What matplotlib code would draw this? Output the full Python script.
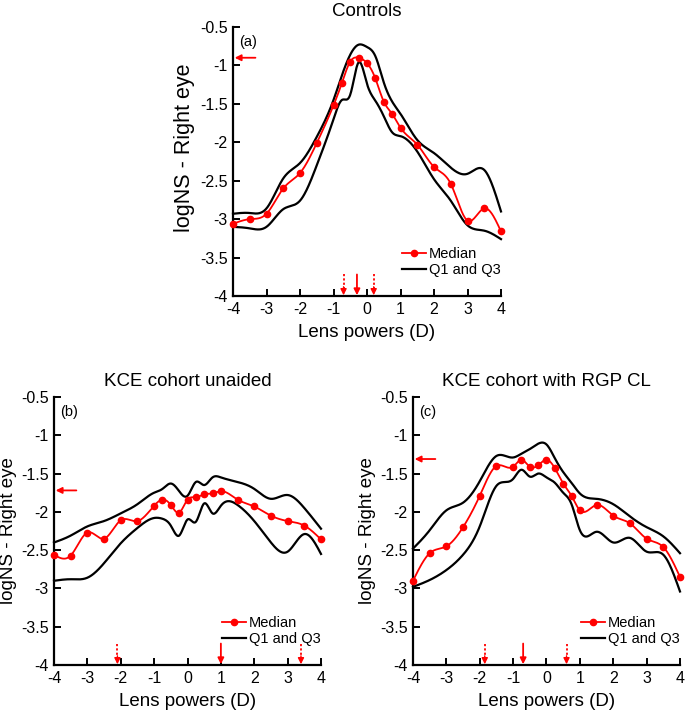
import numpy as np
import matplotlib
matplotlib.use('Agg')
import matplotlib.pyplot as plt
from matplotlib.lines import Line2D
from matplotlib.ticker import FormatStrFormatter

plt.rcParams['font.family'] = ['Liberation Sans', 'DejaVu Sans']
plt.rcParams['axes.unicode_minus'] = False

# lens powers (D) at which logNS was measured
lens_powers = [-4, -3.5, -3, -2.5, -2, -1.5, -1, -0.75, -0.5, -0.25, 0,
               0.25, 0.5, 0.75, 1, 1.5, 2, 2.5, 3, 3.5, 4]

# (a) controls
ctrl_median = [-3.06, -3.00, -2.93, -2.60, -2.40, -2.01, -1.52, -1.23, -0.95, -0.90, -0.97,
               -1.17, -1.47, -1.63, -1.81, -2.03, -2.32, -2.54, -3.02, -2.86, -3.16]
ctrl_q3 = [-2.93, -2.92, -2.86, -2.47, -2.27, -1.93, -1.45, -1.13, -0.86, -0.73, -0.76,
           -0.88, -1.22, -1.47, -1.63, -1.97, -2.14, -2.33, -2.41, -2.36, -2.90]
ctrl_q1 = [-3.10, -3.12, -3.10, -2.87, -2.76, -2.30, -1.70, -1.45, -1.38, -0.96, -1.24,
           -1.46, -1.66, -1.87, -1.92, -2.12, -2.48, -2.76, -3.08, -3.15, -3.26]

# (b) KCE cohort unaided
kce_median = [-2.56, -2.57, -2.27, -2.35, -2.11, -2.12, -1.92, -1.84, -1.91, -2.01, -1.84,
              -1.81, -1.77, -1.76, -1.73, -1.84, -1.93, -2.05, -2.12, -2.18, -2.36]
kce_q3 = [-2.40, -2.31, -2.19, -2.12, -2.02, -1.90, -1.75, -1.70, -1.63, -1.73, -1.79,
          -1.61, -1.65, -1.55, -1.55, -1.61, -1.70, -1.83, -1.78, -1.95, -2.22]
kce_q1 = [-2.90, -2.88, -2.86, -2.67, -2.41, -2.21, -2.08, -2.09, -2.18, -2.31, -2.10,
          -2.13, -1.89, -2.02, -1.92, -1.91, -2.12, -2.40, -2.52, -2.29, -2.55]

# (c) KCE cohort with RGP CL
rgp_median = [-2.90, -2.54, -2.45, -2.20, -1.79, -1.40, -1.41, -1.32, -1.41, -1.39, -1.32,
              -1.43, -1.63, -1.79, -1.98, -1.91, -2.05, -2.15, -2.35, -2.46, -2.85]
rgp_q3 = [-2.48, -2.24, -1.98, -1.88, -1.60, -1.27, -1.29, -1.24, -1.18, -1.11, -1.12,
          -1.30, -1.48, -1.62, -1.76, -1.83, -1.90, -2.06, -2.20, -2.32, -2.54]
rgp_q1 = [-2.98, -2.89, -2.76, -2.56, -2.19, -1.66, -1.57, -1.45, -1.54, -1.50, -1.55,
          -1.62, -1.75, -1.90, -2.24, -2.26, -2.40, -2.34, -2.52, -2.56, -3.04]

# red arrows: level on the y axis, solid and dotted arrows on the x axis
ctrl_level, ctrl_solid, ctrl_dotted = -0.9, -0.3, [-0.7, 0.2]
kce_level, kce_solid, kce_dotted = -1.72, 1.0, [-2.1, 3.4]
rgp_level, rgp_solid, rgp_dotted = -1.31, -0.7, [-1.85, 0.6]

RED = '#ff0000'


def smooth(x, y, n=500):
    # natural cubic spline through the points
    x = np.asarray(x, float)
    y = np.asarray(y, float)
    h = np.diff(x)
    m = len(x)
    A = np.zeros((m, m))
    b = np.zeros(m)
    A[0, 0] = A[-1, -1] = 1
    for i in range(1, m - 1):
        A[i, i - 1] = h[i - 1]
        A[i, i] = 2 * (h[i - 1] + h[i])
        A[i, i + 1] = h[i]
        b[i] = 3 * ((y[i + 1] - y[i]) / h[i] - (y[i] - y[i - 1]) / h[i - 1])
    c = np.linalg.solve(A, b)
    xf = np.linspace(x[0], x[-1], n)
    k = np.clip(np.searchsorted(x, xf) - 1, 0, m - 2)
    dx = xf - x[k]
    bk = (y[k + 1] - y[k]) / h[k] - h[k] * (2 * c[k] + c[k + 1]) / 3
    dk = (c[k + 1] - c[k]) / (3 * h[k])
    return xf, y[k] + bk * dx + c[k] * dx ** 2 + dk * dx ** 3


def draw_panel(ax, median, q1, q3, level, solid, dotted, letter, title, ylab_size, ylab_y):
    ax.plot(*smooth(lens_powers, q3), color='black', lw=1.6, clip_on=False)
    ax.plot(*smooth(lens_powers, q1), color='black', lw=1.6, clip_on=False)
    ax.plot(*smooth(lens_powers, median), color=RED, lw=1.3, clip_on=False, zorder=3)
    ax.plot(lens_powers, median, 'o', color=RED, ms=4.5, clip_on=False, zorder=4)

    ax.set_xlim(-4, 4)
    ax.set_ylim(-4, -0.5)
    ax.set_xticks(range(-4, 5))
    ax.set_yticks(np.arange(-4, -0.49, 0.5))
    ax.xaxis.set_major_formatter(FormatStrFormatter('%g'))
    ax.yaxis.set_major_formatter(FormatStrFormatter('%g'))
    ax.tick_params(direction='in', length=5, width=1.4, labelsize=11.5, pad=4)
    for s in ['top', 'right']:
        ax.spines[s].set_visible(False)
    for s in ['left', 'bottom']:
        ax.spines[s].set_linewidth(1.6)

    # arrows
    ax.annotate('', xy=(-3.95, level), xytext=(-3.33, level),
                arrowprops=dict(arrowstyle='-|>', color=RED, lw=1.3,
                                mutation_scale=9, shrinkA=0, shrinkB=0))
    ax.annotate('', xy=(solid, -3.99), xytext=(solid, -3.72),
                arrowprops=dict(arrowstyle='-|>', color=RED, lw=1.3,
                                mutation_scale=9, shrinkA=0, shrinkB=0))
    for xd in dotted:
        ax.plot([xd, xd], [-3.72, -3.9], color=RED, lw=1.3, ls=(0, (1.2, 1.2)))
        ax.annotate('', xy=(xd, -3.99), xytext=(xd, -3.88),
                    arrowprops=dict(arrowstyle='-|>', color=RED, lw=1.0,
                                    mutation_scale=9, shrinkA=0, shrinkB=0))

    ax.text(-3.82, -0.7, letter, fontsize=10.5, va='center', ha='left')
    ax.set_title(title, fontsize=13.5, pad=8)
    ax.set_xlabel('Lens powers (D)', fontsize=13.5)
    ax.set_ylabel('logNS - Right eye', fontsize=ylab_size)
    ax.yaxis.set_label_coords(-0.14, ylab_y)
    ax.xaxis.set_label_coords(0.5, -0.105)

    handles = [Line2D([], [], color=RED, lw=1.3, marker='o', ms=4.5),
               Line2D([], [], color='black', lw=1.6)]
    ax.legend(handles, ['Median', 'Q1 and Q3'], loc='lower right',
              bbox_to_anchor=(1.0, 0.07), frameon=False, fontsize=10.5,
              handlelength=1.7, handletextpad=0.2, labelspacing=0.15,
              borderaxespad=0, borderpad=0)


fig = plt.figure(figsize=(6.85, 7.18), dpi=100)
ax_a = fig.add_axes([233 / 685, 1 - 296 / 718, 268 / 685, 269 / 718])
ax_b = fig.add_axes([54 / 685, 1 - 665 / 718, 267 / 685, 268 / 718])
ax_c = fig.add_axes([413 / 685, 1 - 665 / 718, 267 / 685, 268 / 718])

draw_panel(ax_a, ctrl_median, ctrl_q1, ctrl_q3, ctrl_level, ctrl_solid, ctrl_dotted,
           '(a)', 'Controls', 15.5, 0.55)
draw_panel(ax_b, kce_median, kce_q1, kce_q3, kce_level, kce_solid, kce_dotted,
           '(b)', 'KCE cohort unaided', 13.5, 0.5)
draw_panel(ax_c, rgp_median, rgp_q1, rgp_q3, rgp_level, rgp_solid, rgp_dotted,
           '(c)', 'KCE cohort with RGP CL', 13.5, 0.5)

fig.savefig('out.png', dpi=100)
